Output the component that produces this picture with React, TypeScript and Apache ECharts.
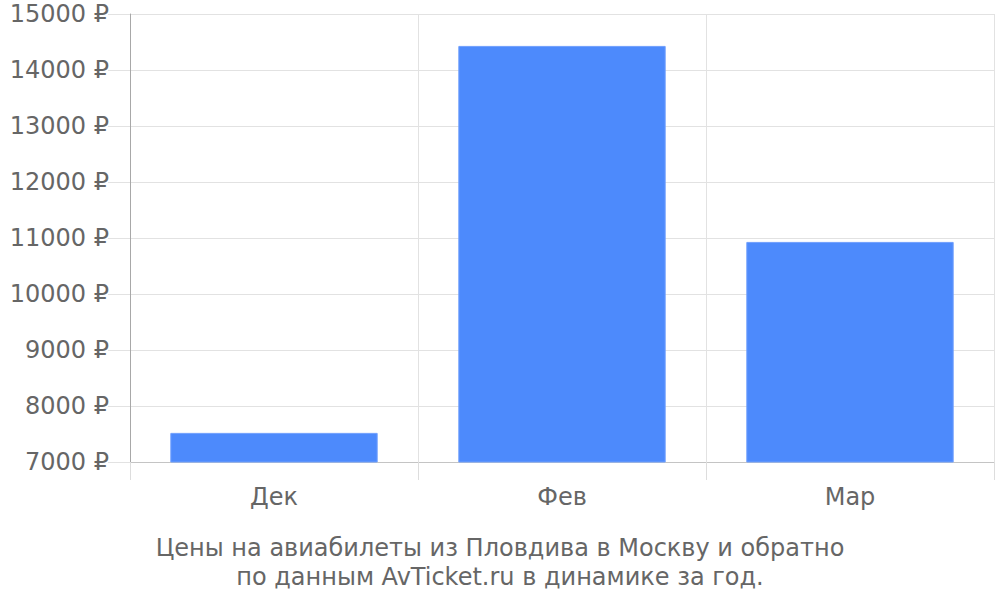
import React, { useRef, useEffect } from 'react'
import * as echarts from 'echarts'

const months = ['Дек', 'Фев', 'Мар']
const prices = [7520, 14430, 10930]
const yMin = 7000
const yMax = 15000
const yStep = 1000
const captionLines = [
  'Цены на авиабилеты из Пловдива в Москву и обратно',
  'по данным AvTicket.ru в динамике за год.'
]

const font = '"DejaVu Sans", Verdana, sans-serif'

const App: React.FC = () => {
  const chartRef = useRef<HTMLDivElement>(null)

  useEffect(() => {
    document.body.style.margin = '0'
    if (!chartRef.current) return
    const chart = echarts.init(chartRef.current, null, { renderer: 'svg' })

    chart.setOption({
      animation: false,
      textStyle: { fontFamily: font },
      grid: { left: 130, right: 6, top: 14, bottom: 138 },
      xAxis: {
        type: 'category',
        data: months,
        boundaryGap: true,
        axisLine: { lineStyle: { color: '#c4c4c4', width: 1 } },
        axisTick: { show: true, length: 18, lineStyle: { color: '#dddddd' } },
        axisLabel: { color: '#666666', fontSize: 24, margin: 23, fontFamily: font },
        splitLine: { show: true, lineStyle: { color: '#e2e2e2' } }
      },
      yAxis: {
        type: 'value',
        min: yMin,
        max: yMax,
        interval: yStep,
        axisLine: { show: true, lineStyle: { color: '#a8a8a8' } },
        axisTick: { show: true, length: 22, lineStyle: { color: '#e2e2e2' } },
        axisLabel: {
          color: '#666666',
          fontSize: 24,
          margin: 21,
          fontFamily: font,
          formatter: (v: number) => `${v} ₽`
        },
        splitLine: { show: true, lineStyle: { color: '#e2e2e2' } }
      },
      series: [
        {
          type: 'bar',
          data: prices,
          barWidth: '72%',
          itemStyle: { color: '#4d8afc', borderColor: '#6f9ffd', borderWidth: 1 }
        }
      ],
      graphic: captionLines.map((line, i) => ({
        type: 'text',
        left: 'center',
        top: 536 + i * 29,
        style: {
          text: line,
          fill: '#666666',
          fontSize: 24,
          fontFamily: font
        }
      }))
    })

    return () => {
      chart.dispose()
    }
  }, [])

  return <div ref={chartRef} style={{ width: 1000, height: 600 }} />
}

export default App
